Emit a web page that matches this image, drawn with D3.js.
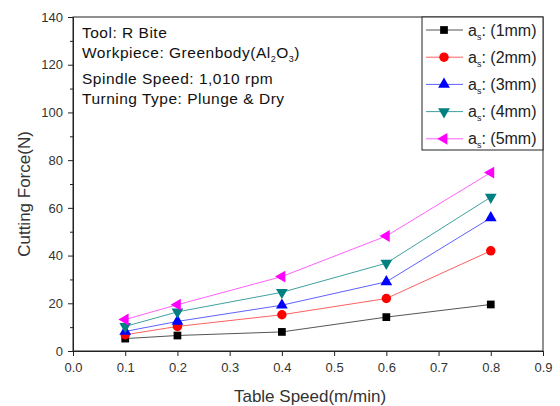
<!DOCTYPE html>
<html>
<head>
<meta charset="utf-8">
<script src="https://cdn.jsdelivr.net/npm/d3@7"></script>
<style>
  body { margin: 0; background: #fff; }
  text { font-family: "Liberation Sans", Arial, sans-serif; }
</style>
</head>
<body>
<div id="chart"></div>
<script>
// data
var speeds = [0.1, 0.2, 0.4, 0.6, 0.8];
var depths = ["(1mm)", "(2mm)", "(3mm)", "(4mm)", "(5mm)"];
var force1 = [5.2, 6.5, 8.0, 14.2, 19.5];
var force2 = [6.8, 10.3, 15.2, 22.0, 42.0];
var force3 = [8.2, 12.4, 19.2, 29.0, 55.8];
var force4 = [10.3, 16.4, 24.6, 36.8, 64.5];
var force5 = [13.2, 19.4, 31.2, 48.2, 74.8];
var xTicks = [0.0, 0.1, 0.2, 0.3, 0.4, 0.5, 0.6, 0.7, 0.8, 0.9];
var yTicks = [0, 20, 40, 60, 80, 100, 120, 140];
var notes = ["Tool: R Bite", "Workpiece: Greenbody(Al", "Spindle Speed: 1,010 rpm", "Turning Type: Plunge & Dry"];

var series = [
  {vals: force1, color: "#000000", line: "#555555", sym: d3.symbolSquare, size: 60, rot: 0},
  {vals: force2, color: "#ff0000", line: "#ff6060", sym: d3.symbolCircle, size: 70, rot: 0},
  {vals: force3, color: "#0000ff", line: "#6060ff", sym: d3.symbolTriangle, size: 60, rot: 0},
  {vals: force4, color: "#008080", line: "#40a0a0", sym: d3.symbolTriangle, size: 60, rot: 180},
  {vals: force5, color: "#ff00ff", line: "#ff60ff", sym: d3.symbolTriangle, size: 60, rot: -90}
];

var margin = {top: 17, right: 17, bottom: 55, left: 73},
    width = 560 - margin.left - margin.right,
    height = 406 - margin.top - margin.bottom;

var svg = d3.select("#chart")
  .append("svg")
    .attr("width", 560)
    .attr("height", 406)
  .append("g")
    .attr("transform", "translate(" + margin.left + "," + margin.top + ")");

var x = d3.scaleLinear().domain([0, 0.9]).range([0, width]);
var y = d3.scaleLinear().domain([0, 140]).range([height, 0]);

// frame
svg.append("rect")
  .attr("width", width).attr("height", height)
  .attr("fill", "none").attr("stroke", "#222").attr("stroke-width", 1);

// x axis
var gx = svg.append("g")
  .attr("transform", "translate(0," + height + ")")
  .call(d3.axisBottom(x).tickValues(xTicks).tickFormat(d3.format(".1f")).tickSize(5).tickPadding(7));
gx.selectAll("text").attr("font-size", 13).attr("fill", "#333");

// y axis, minor ticks first
svg.append("g")
  .call(d3.axisLeft(y).tickValues(d3.range(10, 140, 20)).tickSize(3).tickFormat(""))
  .select(".domain").remove();
var gy = svg.append("g")
  .call(d3.axisLeft(y).tickValues(yTicks).tickSize(5).tickPadding(5));
gy.selectAll("text").attr("font-size", 13).attr("fill", "#333");
svg.selectAll(".domain").attr("stroke", "#222");
svg.selectAll(".tick line").attr("stroke", "#222");

// axis titles
svg.append("text")
  .attr("x", (x(0.9) + x(0)) / 2 + 2).attr("y", height + 51)
  .attr("text-anchor", "middle").attr("font-size", 17).attr("fill", "#333")
  .text("Table Speed(m/min)");
svg.append("text")
  .attr("transform", "translate(" + (-43) + "," + (height / 2 + 10) + ") rotate(-90)")
  .attr("text-anchor", "middle").attr("font-size", 17).attr("fill", "#333")
  .text("Cutting Force(N)");

// lines and markers
var line = d3.line()
  .x(function(d, i) { return x(speeds[i]); })
  .y(function(d) { return y(d); });

series.forEach(function(s) {
  svg.append("path")
    .attr("d", line(s.vals))
    .attr("fill", "none")
    .attr("stroke", s.line)
    .attr("stroke-width", 1);
  svg.selectAll(null)
    .data(s.vals)
    .enter().append("path")
      .attr("d", d3.symbol().type(s.sym).size(s.size))
      .attr("transform", function(d, i) {
        return "translate(" + x(speeds[i]) + "," + y(d) + ") rotate(" + s.rot + ")";
      })
      .attr("fill", s.color);
});

// annotation
var noteY = [15, 35, 61, 81];
notes.forEach(function(t, i) {
  var tx = svg.append("text")
    .attr("x", 9).attr("y", noteY[i] + 5.5)
    .attr("font-size", 15.5).attr("letter-spacing", 0.5).attr("fill", "#111");
  tx.append("tspan").text(t);
  if (i == 1) {
    tx.append("tspan").attr("font-size", 9).attr("dy", 4).text("2");
    tx.append("tspan").attr("dy", -4).text("O");
    tx.append("tspan").attr("font-size", 9).attr("dy", 4).text("3");
    tx.append("tspan").attr("dy", -4).text(")");
  }
});

// legend
var lg = svg.append("g").attr("transform", "translate(" + (width - 121) + ",0)");
lg.append("rect")
  .attr("width", 121).attr("height", 133)
  .attr("fill", "#fff").attr("stroke", "#222");
series.forEach(function(s, i) {
  var ly = 13 + i * 27.2;
  lg.append("line")
    .attr("x1", 4).attr("x2", 41).attr("y1", ly).attr("y2", ly)
    .attr("stroke", s.line);
  lg.append("path")
    .attr("d", d3.symbol().type(s.sym).size(s.size))
    .attr("transform", "translate(22," + ly + ") rotate(" + s.rot + ")")
    .attr("fill", s.color);
  var t = lg.append("text")
    .attr("x", 46).attr("y", ly + 5.5)
    .attr("font-size", 16).attr("fill", "#222");
  t.append("tspan").text("a");
  t.append("tspan").attr("font-size", 9).attr("dy", 4).text("s");
  t.append("tspan").attr("dy", -4).text(": " + depths[i]);
});
</script>
</body>
</html>
